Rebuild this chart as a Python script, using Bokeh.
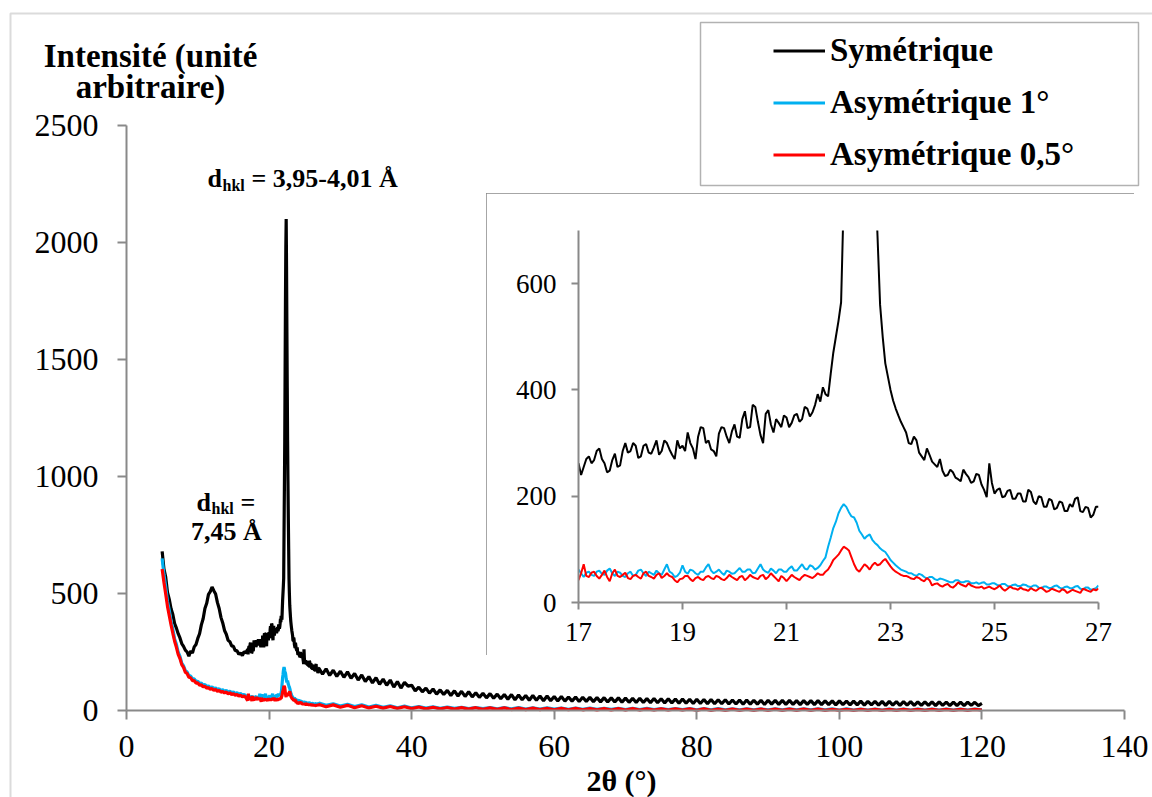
import numpy as np
from bokeh.plotting import figure
from bokeh.models import Range1d, Label, Legend, LegendItem, BoxAnnotation, FixedTicker
from bokeh.embed import file_html
from bokeh.resources import INLINE

# ---------------- data ----------------
series_names = ["Symétrique", "Asymétrique 1°", "Asymétrique 0,5°"]
x_ticks_main = [0, 20, 40, 60, 80, 100, 120, 140]
y_ticks_main = [0, 500, 1000, 1500, 2000, 2500]
x_ticks_inset = [17, 19, 21, 23, 25, 27]
y_ticks_inset = [0, 200, 400, 600]

# segment A: 2theta = 5.00 .. 16.75, step 0.25
sym_a = [680, 605, 570, 505, 475, 435, 410, 372, 352, 328,
         310, 286, 274, 258, 250, 232, 254, 246, 272, 282,
         308, 328, 366, 392, 436, 458, 496, 508, 528, 512,
         498, 462, 436, 398, 374, 342, 326, 300, 294, 276,
         274, 256, 256, 240, 246, 234, 252, 246]
a1_a = [650, 582, 528, 466, 428, 381, 348, 306, 283, 249,
        231, 203, 191, 171, 165, 149, 147, 135, 135, 124,
        125, 115, 117, 108, 111, 102, 105, 97, 101, 93,
        97, 89, 93, 85, 89, 82, 86, 78, 83, 75,
        79, 72, 76, 68, 73, 65, 69, 62]
a05_a = [605, 548, 498, 445, 405, 366, 330, 296, 270, 240,
         222, 196, 184, 164, 158, 142, 140, 128, 128, 117,
         118, 108, 110, 101, 104, 95, 98, 90, 94, 86,
         90, 82, 86, 78, 82, 75, 79, 71, 76, 68,
         72, 65, 69, 61, 66, 58, 62, 55]

# segment B: 2theta = 17.00 .. 26.95, step 0.05
sym_b = [262, 240, 255, 270, 275, 262, 268, 285, 290, 270, 262, 245, 248, 268, 280, 255, 258, 285, 300, 282,
         285, 300, 295, 272, 275, 295, 298, 282, 280, 292, 305, 278, 285, 305, 300, 288, 278, 270, 305, 290,
         295, 285, 320, 300, 290, 270, 312, 330, 328, 300, 305, 288, 285, 275, 318, 330, 328, 312, 300, 322,
         335, 312, 310, 345, 360, 328, 330, 372, 368, 340, 315, 300, 355, 362, 335, 320, 345, 338, 330, 352,
         348, 330, 338, 352, 355, 340, 345, 368, 365, 350, 358, 372, 392, 378, 405, 392, 388, 430, 470, 500,
         530, 565, 760, 950, 1150, 1450, 1750, 1980, 2100, 1900, 1620, 1380, 1150, 980, 820, 690, 560, 500, 450, 425,
         400, 380, 365, 352, 340, 330, 320, 300, 298, 312, 305, 282, 275, 268, 290, 278, 265, 260, 255, 270,
         248, 238, 240, 250, 245, 235, 232, 228, 250, 242, 236, 225, 228, 242, 240, 222, 212, 198, 262, 225,
         205, 212, 215, 198, 200, 210, 212, 195, 195, 205, 205, 190, 190, 212, 208, 190, 185, 200, 198, 180,
         180, 195, 192, 175, 178, 190, 188, 172, 172, 185, 180, 195, 198, 172, 170, 180, 178, 160, 165, 180]
a1_b = [62, 55, 48, 56, 58, 52, 50, 58, 60, 54, 52, 60, 64, 55, 50, 58, 56, 50, 48, 55,
        58, 50, 52, 60, 62, 55, 50, 58, 55, 52, 60, 55, 52, 62, 72, 58, 55, 48, 50, 56,
        70, 58, 54, 62, 60, 55, 52, 58, 58, 66, 72, 60, 55, 58, 62, 56, 52, 60, 58, 54,
        55, 60, 65, 58, 58, 62, 62, 55, 56, 64, 72, 62, 58, 56, 64, 60, 55, 62, 62, 58,
        58, 64, 68, 60, 60, 66, 72, 64, 62, 70, 68, 62, 65, 70, 78, 85, 105, 122, 140, 152,
        168, 178, 185, 180, 170, 162, 160, 150, 135, 128, 120, 125, 128, 118, 112, 108, 102, 98, 95, 88,
        80, 75, 70, 66, 62, 60, 58, 55, 55, 52, 50, 54, 52, 48, 45, 48, 48, 44, 42, 45,
        44, 42, 40, 38, 38, 42, 42, 38, 38, 40, 40, 36, 36, 38, 35, 37, 38, 34, 34, 36,
        36, 33, 32, 35, 35, 31, 30, 33, 34, 31, 31, 34, 33, 30, 29, 32, 32, 28, 27, 30,
        30, 27, 28, 31, 32, 28, 26, 29, 30, 27, 27, 30, 31, 26, 24, 28, 28, 24, 25, 27]
a05_b = [42, 55, 72, 50, 48, 56, 58, 50, 45, 52, 60, 48, 40, 55, 62, 50, 48, 52, 56, 46,
         44, 50, 52, 48, 45, 55, 58, 50, 48, 45, 52, 55, 46, 50, 55, 50, 48, 42, 38, 44,
         45, 50, 50, 44, 40, 46, 48, 44, 42, 48, 50, 46, 44, 50, 48, 44, 42, 46, 52, 48,
         45, 42, 48, 50, 42, 46, 52, 48, 46, 44, 50, 52, 44, 48, 55, 50, 45, 40, 50, 46,
         40, 46, 52, 48, 45, 42, 48, 52, 50, 48, 46, 50, 55, 52, 52, 58, 62, 70, 80, 85,
         90, 98, 105, 102, 98, 85, 72, 62, 58, 65, 72, 68, 62, 70, 75, 70, 72, 78, 82, 75,
         68, 62, 58, 55, 52, 50, 50, 48, 45, 44, 48, 46, 42, 40, 46, 42, 32, 35, 36, 32,
         30, 33, 35, 30, 28, 32, 38, 34, 32, 30, 36, 32, 30, 28, 28, 30, 26, 28, 30, 27,
         25, 28, 32, 26, 22, 26, 30, 27, 26, 24, 28, 25, 24, 22, 27, 24, 22, 26, 28, 24,
         20, 22, 26, 24, 22, 20, 25, 23, 18, 21, 24, 22, 20, 18, 26, 24, 22, 20, 25, 23]

# segment C (Symétrique): 2theta = 27.0 .. 120.0, step 0.5
sym_c = [180, 155, 178, 150, 172, 146, 168, 142, 165, 138,
         158, 130, 152, 124, 145, 118, 140, 112, 134, 108,
         130, 100, 124, 96, 120, 104, 108, 84, 100, 80,
         96, 74, 92, 70, 88, 68, 86, 64, 84, 62,
         82, 60, 80, 58, 76, 56, 74, 54, 72, 52,
         70, 50, 68, 48, 68, 46, 66, 46, 64, 44,
         64, 44, 62, 42, 62, 42, 60, 41, 60, 40,
         58, 40, 58, 38, 57, 39, 56, 38, 55, 37,
         55, 36, 54, 36, 54, 35, 53, 35, 52, 34,
         52, 34, 51, 33, 51, 33, 50, 32, 50, 32,
         49, 31, 49, 31, 48, 30, 48, 30, 47, 29,
         47, 29, 46, 29, 46, 28, 45, 28, 45, 27,
         45, 27, 44, 27, 44, 26, 44, 27, 43, 26,
         43, 26, 43, 26, 42, 25, 42, 26, 42, 25,
         42, 25, 41, 25, 41, 24, 41, 25, 40, 24,
         40, 24, 40, 23, 39, 24, 39, 23, 39, 22,
         39, 23, 38, 22, 38, 23, 38, 22, 37, 22,
         37, 22, 37, 21, 37, 22, 36, 21, 36, 21,
         36, 21, 36, 22, 35, 21, 30]
# segment C (asymmetric scans): 2theta = 27 .. 120, step 1
a1_c = [32, 22, 29, 19, 27, 17, 24, 15, 22, 14,
        20, 12, 19, 11, 17, 10, 16, 9, 15, 9,
        14, 8, 13, 8, 13, 7, 12, 7, 12, 6,
        11, 6, 11, 6, 10, 5, 10, 5, 10, 5,
        9, 5, 9, 4, 9, 4, 9, 4, 8, 4,
        8, 4, 8, 3, 8, 3, 8, 3, 7, 3,
        7, 3, 7, 3, 7, 3, 7, 3, 7, 3,
        7, 3, 7, 2, 7, 2, 6, 2, 6, 2,
        6, 2, 6, 2, 6, 2, 6, 2, 6, 2,
        6, 2, 6, 3]
a05_c = [26, 16, 24, 14, 22, 12, 20, 11, 18, 10,
         17, 9, 16, 8, 15, 7, 14, 7, 13, 6,
         12, 6, 12, 5, 11, 5, 11, 4, 10, 4,
         10, 4, 9, 3, 9, 3, 9, 3, 8, 3,
         8, 2, 8, 2, 8, 2, 7, 2, 7, 2,
         7, 2, 7, 1, 7, 1, 6, 1, 6, 1,
         6, 1, 6, 1, 6, 1, 6, 1, 6, 1,
         6, 1, 5, 1, 5, 1, 5, 1, 5, 1,
         5, 1, 5, 1, 5, 1, 5, 1, 5, 1,
         5, 1, 5, 2]


def grid(start, step, vals):
    return start + step * np.arange(len(vals))


def assemble(a, b, c, step_c):
    x = np.concatenate([grid(5.0, 0.25, a), grid(17.0, 0.05, b), grid(27.0, step_c, c)])
    y = np.concatenate([a, b, c]).astype(float)
    return x, y


sym_x, sym_y = assemble(sym_a, sym_b, sym_c, 0.5)
a1_x, a1_y = assemble(a1_a, a1_b, a1_c, 1.0)
a05_x, a05_y = assemble(a05_a, a05_b, a05_c, 1.0)
all_series = [(sym_x, sym_y), (a1_x, a1_y), (a05_x, a05_y)]

colors = ["#000000", "#00B0F0", "#FF0000"]
FONT = "Liberation Serif"
AXIS_GREY = "#898989"

# ---------------- main figure: frame = whole canvas, axes at fixed location ----------------
W, H = 1152, 797
X0P, X140P = 126.0, 1124.0     # page x of 2theta = 0 and 140
Y0P, Y2500P = 710.0, 125.0     # page y of I = 0 and 2500
sx = (X140P - X0P) / 140.0
sy = (Y0P - Y2500P) / 2500.0

def mx(px):
    return (px - X0P) / sx

def my(py):
    return (Y0P - py) / sy

p = figure(width=W, height=H,
           x_range=Range1d(mx(0), mx(W)),
           y_range=Range1d(my(H), my(0)),
           output_backend="svg", toolbar_location=None,
           min_border_left=0, min_border_right=0, min_border_top=0, min_border_bottom=0)
p.background_fill_color = "white"
p.border_fill_color = "white"
p.outline_line_color = None
p.grid.visible = False

p.xaxis.fixed_location = 0
p.yaxis.fixed_location = 0
p.xaxis.bounds = (0, 140)
p.yaxis.bounds = (0, 2500)
for ax in (p.xaxis[0], p.yaxis[0]):
    ax.axis_line_color = AXIS_GREY
    ax.axis_line_width = 2
    ax.major_tick_line_color = AXIS_GREY
    ax.major_tick_line_width = 2
    ax.major_tick_out = 9
    ax.major_tick_in = 0
    ax.minor_tick_line_color = None
    ax.major_label_text_font = FONT
    ax.major_label_text_font_size = "32px"
    ax.major_label_text_color = "black"
p.xaxis.ticker = FixedTicker(ticks=x_ticks_main)
p.yaxis.ticker = FixedTicker(ticks=y_ticks_main)
p.xaxis.major_label_standoff = 16
p.yaxis.major_label_standoff = 19

rs = []
for (x, y), c in zip(all_series, colors):
    rs.append(p.line(x, y, line_color=c, line_width=3.2))

# outer chart-area border
p.add_layout(BoxAnnotation(left=mx(10), top=my(13), right=mx(1400), bottom=my(1000),
                           fill_alpha=0, line_color=AXIS_GREY, line_width=2))
# legend frame
p.add_layout(BoxAnnotation(left=mx(700), top=my(22), right=mx(1138), bottom=my(185),
                           fill_alpha=0, line_color="black", line_width=1.5))

legend = Legend(items=[LegendItem(label=n, renderers=[r]) for n, r in zip(series_names, rs)],
                location=(773, H - 172.5),
                border_line_color=None, background_fill_alpha=0,
                padding=0, margin=0, spacing=15, glyph_width=52, glyph_height=33,
                label_height=33, label_standoff=5,
                label_text_font=FONT, label_text_font_style="bold",
                label_text_font_size="33px", label_text_color="black")
p.add_layout(legend)

def lab(px, py, text, size, align="left"):
    # py = wanted baseline on the page; the renderer sits text ~0.36 em lower
    p.add_layout(Label(x=mx(px), y=my(py - 0.36 * size), text=text, text_align=align,
                       text_baseline="alphabetic", text_font=FONT,
                       text_font_style="bold", text_font_size=f"{size}px", text_color="black"))

lab(150, 67, "Intensité (unité", 33, "center")
lab(150, 98, "arbitraire)", 33, "center")
lab(207, 187, "d", 26)
lab(222, 191, "hkl", 16)
lab(251, 187, "= 3,95-4,01 Å", 26)
lab(196, 511, "d", 26)
lab(211, 514, "hkl", 16)
lab(240, 511, "=", 26)
lab(226, 540, "7,45 Å", 26, "center")
lab(621, 791, "2θ (°)", 30, "center")

# ---------------- inset figure (absolutely positioned over the main one) ----------------
BX0, BY0, BX1, BY1 = 486, 193, 1134, 655      # inset box on the page
IW, IH = BX1 - BX0, BY1 - BY0
IL, IR, IT, IB = 92, 36, 37, 53
q = figure(width=IW, height=IH, x_range=Range1d(17, 27), y_range=Range1d(0, 700),
           output_backend="svg", toolbar_location=None,
           min_border_left=IL, min_border_right=IR, min_border_top=IT, min_border_bottom=IB)
q.background_fill_color = "white"
q.border_fill_color = "white"
q.outline_line_color = None
q.grid.visible = False
q.styles = {"position": "absolute", "left": f"{BX0}px", "top": f"{BY0}px",
            "outline": f"2px solid {AXIS_GREY}", "outline-offset": "-2px", "z-index": "5"}

for ax in (q.xaxis[0], q.yaxis[0]):
    ax.axis_line_color = AXIS_GREY
    ax.axis_line_width = 2
    ax.major_tick_line_color = AXIS_GREY
    ax.major_tick_line_width = 2
    ax.major_tick_out = 7
    ax.major_tick_in = 0
    ax.minor_tick_line_color = None
    ax.major_label_text_font = FONT
    ax.major_label_text_font_size = "27px"
    ax.major_label_text_color = "black"
q.xaxis.ticker = FixedTicker(ticks=x_ticks_inset)
q.yaxis.ticker = FixedTicker(ticks=y_ticks_inset)
q.xaxis.major_label_standoff = 13
q.yaxis.major_label_standoff = 15

for (x, y), c in zip(all_series, colors):
    m = (x >= 16.9) & (x <= 27.1)
    q.line(x[m], y[m], line_color=c, line_width=2)

open("out.html", "w").write(file_html([p, q], INLINE))
